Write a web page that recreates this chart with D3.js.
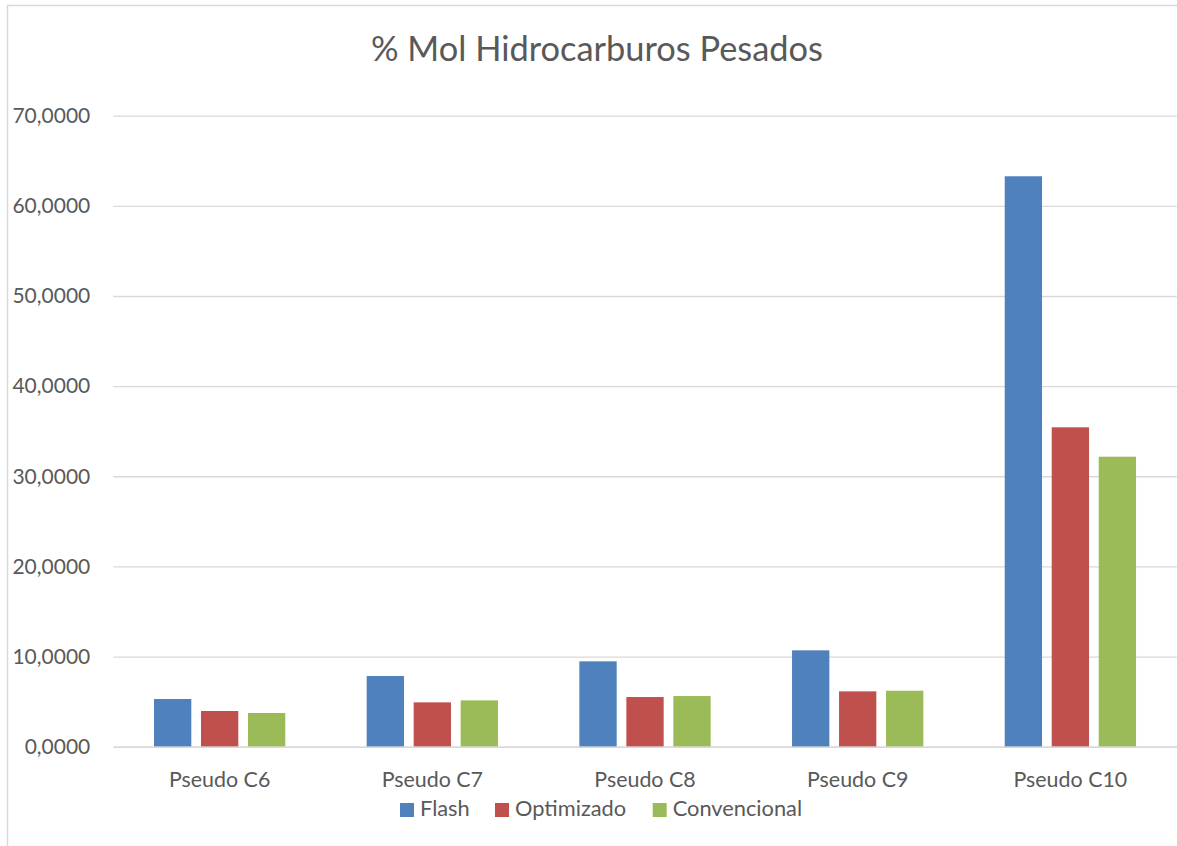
<!DOCTYPE html>
<html><head><meta charset="utf-8">
<script src="https://cdn.jsdelivr.net/npm/d3@7"></script>
<style>html,body{margin:0;padding:0;background:#fff;overflow:hidden}</style>
</head><body>
<svg id="chart" width="1177" height="846"></svg>
<script>
const categories = ["Pseudo C6","Pseudo C7","Pseudo C8","Pseudo C9","Pseudo C10"];
const seriesNames = ["Flash","Optimizado","Convencional"];
const flash = [5.29, 7.84, 9.47, 10.69, 63.28];
const optimizado = [3.96, 4.92, 5.51, 6.14, 35.43];
const convencional = [3.74, 5.14, 5.62, 6.21, 32.17];
const yTicks = [0,10,20,30,40,50,60,70];
const colors = ["#4F81BD","#C0504D","#9BBB59"];
const title = "% Mol Hidrocarburos Pesados";

const values = [flash, optimizado, convencional];
const font = "Lato, 'Open Sans', sans-serif";
const txt = "#595959";

const svg = d3.select("#chart");
svg.append("rect").attr("x",7.5).attr("y",5.5).attr("width",1200).attr("height",900)
  .attr("fill","#fff").attr("stroke","#d9d9d9").attr("stroke-width",1.5);

const pLeft = 113.3, pRight = 1176.7, pTop = 115.7, pBottom = 746.7;
const x0 = d3.scaleBand().domain(categories).range([pLeft,pRight]).padding(0);
const x1 = d3.scaleBand().domain(seriesNames).range([40.7,172]).paddingInner(0.206).paddingOuter(0);
const y = d3.scaleLinear().domain([0,70]).range([pBottom, pTop]);

// gridlines
const yAxis = d3.axisLeft(y).tickValues(yTicks).tickSize(-(pRight-pLeft)).tickPadding(23)
  .tickFormat(d => d3.format(".4f")(d).replace(".", ","));
const ga = svg.append("g").attr("transform",`translate(${pLeft},0)`).call(yAxis);
ga.select(".domain").remove();
ga.selectAll(".tick line").attr("stroke","#d9d9d9").attr("stroke-width",1.3);
ga.selectAll(".tick text").attr("fill",txt).style("font-family",font).style("font-size","21px");

// bars
const g = svg.append("g");
categories.forEach((c,i) => {
  seriesNames.forEach((s,j) => {
    g.append("rect")
      .attr("x", x0(c) + x1(s))
      .attr("y", y(values[j][i]))
      .attr("width", x1.bandwidth())
      .attr("height", y(0) - y(values[j][i]))
      .attr("fill", colors[j]);
  });
});

// x axis
const xAxis = d3.axisBottom(x0).tickSize(0).tickPadding(25);
const gx = svg.append("g").attr("transform",`translate(0,${pBottom})`).call(xAxis);
gx.select(".domain").attr("stroke","#d9d9d9").attr("stroke-width",1.5);
gx.selectAll(".tick text").attr("fill",txt).style("font-family",font).style("font-size","21.4px");

// title
svg.append("text").attr("x",597).attr("y",61).attr("text-anchor","middle")
  .attr("fill",txt).style("font-family",font).style("font-size","34.4px").text(title);

// legend
const legendX = [400, 495, 652.7];
seriesNames.forEach((s,j) => {
  svg.append("rect").attr("x",legendX[j]).attr("y",803).attr("width",14).attr("height",14).attr("fill",colors[j]);
  svg.append("text").attr("x",legendX[j]+20).attr("y",816).attr("fill",txt)
    .style("font-family",font).style("font-size","21.8px").text(s);
});
</script>
</body></html>
